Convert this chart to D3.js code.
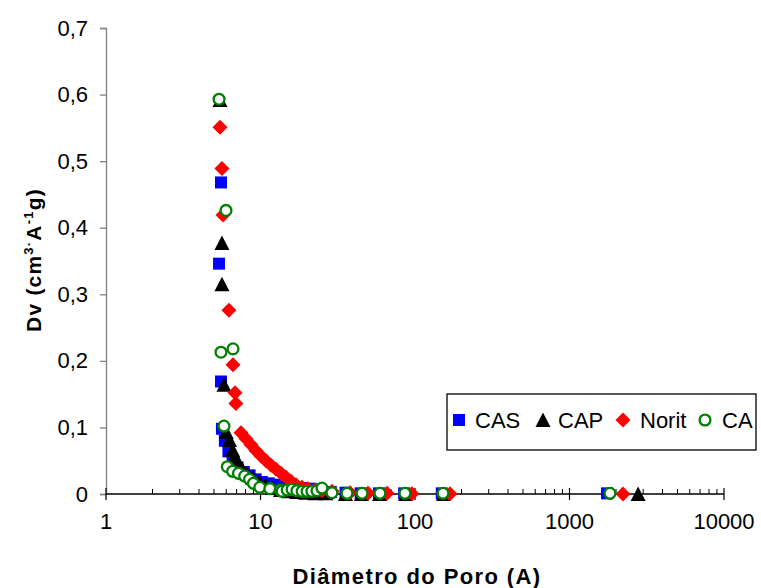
<!DOCTYPE html>
<html><head><meta charset="utf-8">
<script src="https://cdn.jsdelivr.net/npm/d3@7/dist/d3.min.js"></script>
<style>body{margin:0;background:#fff}svg{display:block}</style>
</head><body>
<svg id="c" width="761" height="588"></svg>
<script>
// ---- data ----
const seriesNames = ["CAS", "CAP", "Norit", "CA"];

const casX = [5.55, 5.39, 5.55, 5.63, 5.88, 6.2, 6.6, 7.1, 7.8, 8.5, 9.3, 10.2, 11.3, 12.6, 14.2, 16.0, 18.2, 21.0, 24.0, 28.5, 35.5, 44.5, 58.5, 85, 149, 1750];
const casY = [0.468, 0.346, 0.169, 0.098, 0.080, 0.064, 0.050, 0.040, 0.033, 0.028, 0.022, 0.018, 0.016, 0.014, 0.012, 0.010, 0.009, 0.008, 0.007, 0.003, 0.002, 0.001, 0.001, 0.001, 0.001, 0.001];

const capX = [5.47, 5.63, 5.63, 5.80, 6.0, 6.3, 6.6, 6.8, 7.2, 7.6, 8.2, 8.9, 9.8, 10.8, 12.0, 13.5, 15.2, 17.2, 19.6, 22.5, 26.5, 35.5, 45, 59, 87, 153, 2780];
const capY = [0.592, 0.377, 0.315, 0.164, 0.093, 0.081, 0.066, 0.057, 0.047, 0.038, 0.030, 0.024, 0.018, 0.013, 0.009, 0.006, 0.004, 0.003, 0.002, 0.001, 0.001, 0, 0, 0, 0, 0, 0];

const noritX = [5.47, 5.63, 5.72, 6.25, 6.64, 6.84, 6.93, 7.48, 8.06, 8.68, 9.35, 10.07, 10.85, 11.70, 12.60, 13.57, 14.62, 15.76, 16.98, 18.56, 20.30, 22.53, 25.01, 29.03, 37.96, 49.63, 65.88, 95.6, 168.5, 2220];
const noritY = [0.551, 0.489, 0.419, 0.276, 0.194, 0.152, 0.136, 0.092, 0.083, 0.074, 0.065, 0.057, 0.050, 0.043, 0.037, 0.031, 0.025, 0.019, 0.014, 0.010, 0.008, 0.006, 0.005, 0.004, 0.002, 0.001, 0.001, 0.0005, 0.0003, 0];

const caX = [5.39, 5.98, 5.55, 6.64, 5.80, 6.1, 6.6, 7.2, 7.9, 8.5, 9.0, 9.9, 11.5, 13.4, 13.8, 14.9, 16.0, 17.2, 18.6, 20.0, 21.5, 23.2, 25.0, 29.0, 36.3, 45.4, 59.3, 86.1, 151.8, 1828];
const caY = [0.593, 0.426, 0.213, 0.218, 0.102, 0.041, 0.034, 0.031, 0.027, 0.022, 0.016, 0.010, 0.008, 0.006, 0.004, 0.006, 0.007, 0.005, 0.004, 0.004, 0.004, 0.005, 0.009, 0.002, 0.001, 0.001, 0.001, 0.001, 0.001, 0.001];

const xTickValues = [1, 10, 100, 1000, 10000];
const yTickValues = [0, 0.1, 0.2, 0.3, 0.4, 0.5, 0.6, 0.7];
const xTitle = "Diâmetro do Poro (A)";

// ---- layout ----
const svg = d3.select("#c");
const L = 106, R = 724, T = 28, B = 494;
const x = d3.scaleLog().domain([1, 10000]).range([L, R]);
const y = d3.scaleLinear().domain([0, 0.7]).range([B, T]);
const FONT = "'Liberation Sans', Arial, sans-serif";

// y axis
const yAxis = svg.append("g").attr("transform", `translate(${L},0)`)
  .call(d3.axisLeft(y).tickValues(yTickValues).tickSize(6).tickPadding(12)
    .tickFormat(d => d === 0 ? "0" : d3.format(".1f")(d).replace(".", ",")));
yAxis.select(".domain").attr("stroke", "#808080").attr("stroke-width", 1.3);
yAxis.selectAll(".tick line").attr("stroke", "#808080").attr("stroke-width", 1.3);
yAxis.selectAll(".tick text").attr("font-family", FONT).attr("font-size", 22).attr("fill", "#000");

// x axis: minor ticks (up), major ticks crossing
const minor = [];
for (let d = 1; d < 10000; d *= 10) for (let k = 2; k <= 9; k++) minor.push(d * k);
const xg = svg.append("g");
xg.selectAll("line.minor").data(minor).join("line")
  .attr("x1", d => x(d)).attr("x2", d => x(d)).attr("y1", B - 5).attr("y2", B)
  .attr("stroke", "#000").attr("stroke-width", 1);
xg.selectAll("line.major").data(xTickValues).join("line")
  .attr("x1", d => x(d)).attr("x2", d => x(d)).attr("y1", B - 6).attr("y2", B + 6)
  .attr("stroke", "#000").attr("stroke-width", 1.2);
xg.append("line").attr("x1", L).attr("x2", R).attr("y1", B).attr("y2", B)
  .attr("stroke", "#000").attr("stroke-width", 1.3);
xg.selectAll("text").data(xTickValues).join("text")
  .attr("x", d => x(d)).attr("y", 529).attr("text-anchor", "middle")
  .attr("font-family", FONT).attr("font-size", 22).text(d => String(d));

// titles
svg.append("text").attr("x", 417).attr("y", 584).attr("text-anchor", "middle")
  .attr("font-family", FONT).attr("font-size", 22).attr("font-weight", "bold")
  .attr("letter-spacing", 1.4).text(xTitle);

const yt = svg.append("text").attr("transform", "translate(41,260) rotate(-90)")
  .attr("text-anchor", "middle").attr("font-family", FONT).attr("font-size", 21)
  .attr("font-weight", "bold").attr("letter-spacing", 1.2);
yt.append("tspan").text("Dv (cm");
yt.append("tspan").attr("font-size", 13).attr("dy", -8).text("3");
yt.append("tspan").attr("font-size", 13).text("·");
yt.append("tspan").attr("dy", 8).text("A");
yt.append("tspan").attr("font-size", 13).attr("dy", -8).text("-1");
yt.append("tspan").attr("dy", 8).text("g)");

// markers
const shapes = {
  CAS: g => g.append("rect").attr("x", -6).attr("y", -6).attr("width", 12).attr("height", 12).attr("fill", "#0000FF"),
  CAP: g => g.append("path").attr("d", "M0,-7.5L7.5,7L-7.5,7Z").attr("fill", "#000"),
  Norit: g => g.append("path").attr("d", "M0,-7.5L7.5,0L0,7.5L-7.5,0Z").attr("fill", "#FF0000"),
  CA: g => g.append("circle").attr("r", 5.4).attr("fill", "#fff").attr("stroke", "#008000").attr("stroke-width", 2.3)
};
const data = {
  CAS: casX.map((v, i) => [v, casY[i]]),
  CAP: capX.map((v, i) => [v, capY[i]]),
  Norit: noritX.map((v, i) => [v, noritY[i]]),
  CA: caX.map((v, i) => [v, caY[i]])
};
seriesNames.forEach(name => {
  const g = svg.append("g");
  data[name].forEach(p => {
    const m = g.append("g").attr("transform", `translate(${x(p[0])},${y(p[1])})`);
    shapes[name](m);
  });
});

// legend
const lg = svg.append("g");
lg.append("rect").attr("x", 447).attr("y", 394).attr("width", 309).attr("height", 56)
  .attr("fill", "#fff").attr("stroke", "#000").attr("stroke-width", 1.3);
const legendPos = [[459, 475], [543, 558], [623, 640], [705, 722]];
seriesNames.forEach((name, i) => {
  const m = lg.append("g").attr("transform", `translate(${legendPos[i][0]},420)`);
  shapes[name](m);
  lg.append("text").attr("x", legendPos[i][1]).attr("y", 428).attr("font-family", FONT)
    .attr("font-size", 22).text(name);
});
</script>
</body></html>
